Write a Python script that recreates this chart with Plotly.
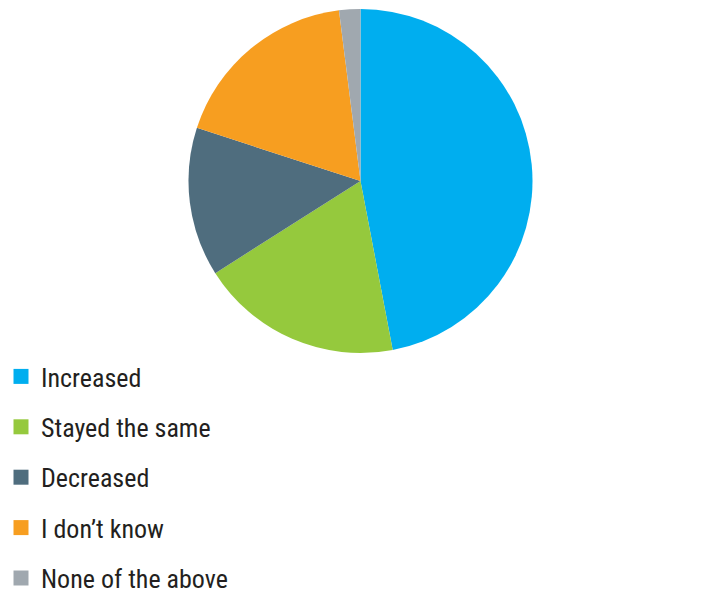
import plotly.graph_objects as go

labels = ["Increased", "Stayed the same", "Decreased", "I don\u2019t know", "None of the above"]
values = [47, 19, 14, 18, 2]
colors = ["#00AEEF", "#95C93D", "#4F6D7E", "#F79E20", "#A0A8AF"]

W, H = 727, 591
OFF = 8  # page body margin offset
cx, cy, r = 360.5 - OFF, 181 - OFF, 172

fig = go.Figure()
fig.add_trace(go.Pie(
    labels=labels, values=values, sort=False, direction="clockwise", rotation=0,
    marker=dict(colors=colors, line=dict(width=0)),
    textinfo="none", hoverinfo="label+percent", showlegend=False,
    domain=dict(x=[(cx - r) / W, (cx + r) / W], y=[(H - cy - r) / H, (H - cy + r) / H]),
))
for i, (lab, col) in enumerate(zip(labels, colors)):
    fig.add_trace(go.Scatter(
        x=[None], y=[None], mode="markers", name=lab, legendgroup=str(i),
        marker=dict(symbol="square", size=15, color=col),
    ))

fig.update_layout(
    width=W, height=H, margin=dict(l=0, r=0, t=0, b=0, autoexpand=False),
    paper_bgcolor="white", plot_bgcolor="white",
    xaxis=dict(visible=False), yaxis=dict(visible=False),
    font=dict(family="Liberation Sans Narrow, Roboto Condensed, Arial Narrow, sans-serif", size=26, color="#231F20"),
    legend=dict(x=0, xanchor="left",
                y=(H - 345) / H, yanchor="top",
                indentation=-7,
                tracegroupgap=13.6, bgcolor="rgba(0,0,0,0)", itemclick=False),
    showlegend=True,
)
fig.write_html("out.html")
